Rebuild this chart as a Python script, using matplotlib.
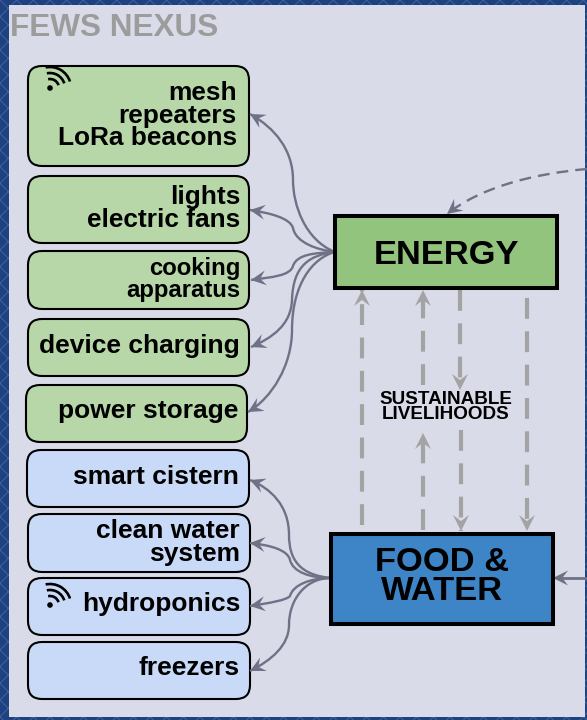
import numpy as np
import matplotlib
matplotlib.use('Agg')
import matplotlib.pyplot as plt
from matplotlib.patches import Rectangle, FancyBboxPatch, Polygon, Arc, Circle, PathPatch
from matplotlib.path import Path

plt.rcParams['font.family'] = ['Liberation Sans', 'DejaVu Sans']
plt.rcParams['hatch.linewidth'] = 0.8

title = 'FEWS NEXUS'
energy_labels = ['mesh\nrepeaters\nLoRa beacons', 'lights\nelectric fans', 'cooking\napparatus',
                 'device charging', 'power storage']
water_labels = ['smart cistern', 'clean water\nsystem', 'hydroponics', 'freezers']
centre_labels = ['ENERGY', 'FOOD &\nWATER']
middle_label = 'SUSTAINABLE\nLIVELIHOODS'

# box layout in image pixels: x0, x1, y0, y1
energy_boxes = [(28, 249, 66, 166), (28, 249, 176, 243), (28, 249, 251, 309), (28, 249, 319, 376), (26, 247, 385, 442)]
water_boxes = [(27, 249, 450, 507), (28, 250, 514, 572), (28, 250, 578, 635), (28, 250, 642, 699)]
energy_text = [(237, 115.5, 18.9), (240, 208.5, 18.9), (240, 279.5, 17.2), (240, 346, 19), (238, 411, 19)]
water_text = [(239, 477, 19), (240, 542.5, 19), (240, 604, 19), (240, 668, 19)]
wifi_dots = [(50, 88), (50, 605)]

# curved links as bezier controls: start, c1, c2, mid, c1, c2, tip
energy_links = [
    [(335, 252), (305, 240), (293, 205), (293, 180), (293, 150), (275, 128), (250, 114)],
    [(335, 252), (318, 250), (296, 243), (293, 228), (290, 218), (270, 213), (250, 210)],
    [(335, 252), (315, 253), (297, 254), (293, 266), (290, 276), (272, 277), (251, 280)],
    [(335, 252), (310, 255), (293, 265), (292, 300), (291, 325), (272, 338), (251, 347)],
    [(335, 252), (312, 258), (292, 285), (292, 330), (292, 365), (272, 398), (248, 412)],
]
water_links = [
    [(331, 578), (300, 575), (289, 560), (289, 535), (289, 505), (270, 488), (250, 480)],
    [(331, 578), (310, 578), (293, 572), (290, 560), (288, 550), (270, 545), (250, 543)],
    [(331, 578), (310, 578), (293, 585), (290, 596), (287, 600), (270, 603), (250, 606)],
    [(331, 578), (305, 578), (289, 600), (289, 625), (289, 645), (272, 660), (250, 671)],
]
top_link = [(587, 169), (530, 174), (480, 188), (447, 214)]

# grey dashed arrows: x, start y, tip y
dashed_up = [(362, 525, 290), (423, 530, 433), (423, 385, 290)]
dashed_down = [(460, 290, 390), (461, 430, 531), (527, 298, 531)]

LINK = '#6F7186'
GREY = '#A3A3A3'


def head(tip, d, color, size=15, width=7.5, zorder=4):
    d = np.array(d, dtype=float)
    d = d / np.hypot(*d)
    n = np.array([-d[1], d[0]])
    tip = np.array(tip, dtype=float)
    ax.add_patch(Polygon([tip, tip - d * size + n * width, tip - d * size * 0.62,
                          tip - d * size - n * width], closed=True, fc=color, ec='none', zorder=zorder))


def link(pts, dashed=False):
    codes = [Path.MOVETO] + [Path.CURVE4] * (len(pts) - 1)
    ls = (0, (5, 3)) if dashed else '-'
    ax.add_patch(PathPatch(Path(pts, codes), fc='none', ec=LINK, lw=1.7, ls=ls, zorder=3))
    head(pts[-1], np.subtract(pts[-1], pts[-2]), LINK)


def box(b, color):
    x0, x1, y0, y1 = b
    ax.add_patch(FancyBboxPatch((x0 + 14, y0 + 14), x1 - x0 - 28, y1 - y0 - 28,
                                boxstyle='round,pad=14', fc=color, ec='black', lw=1.5, zorder=2))


def wifi(x, y):
    ax.add_patch(Circle((x, y), 2.8, fc='black', ec='none', zorder=5))
    for r in [9, 15, 21]:
        ax.add_patch(Arc((x, y), 2 * r, 2 * r, theta1=258, theta2=342, ec='black', lw=1.9, zorder=5))


fig = plt.figure(figsize=(5.87, 7.2), dpi=100)
ax = fig.add_axes([0, 0, 1, 1])
ax.set_xlim(0, 587)
ax.set_ylim(720, 0)
ax.axis('off')

ax.add_patch(Rectangle((0, 0), 587, 720, fc='#1E4180', ec='#3D5F9E', hatch='xx', lw=0, zorder=0))
ax.add_patch(Rectangle((9, 5), 576, 712, fc='#D9DCE8', ec='none', zorder=1))

ax.text(10, 28, title, color='#9C9C9C', fontsize=22.7, fontweight='bold', va='center', ha='left', zorder=6)

for b, lab, t in zip(energy_boxes, energy_labels, energy_text):
    box(b, '#B7D7A8')
    ax.text(t[0], t[1], lab, fontsize=t[2], fontweight='bold', ha='right', va='center', linespacing=0.94, zorder=6)
for b, lab, t in zip(water_boxes, water_labels, water_text):
    box(b, '#C9DAF8')
    ax.text(t[0], t[1], lab, fontsize=t[2], fontweight='bold', ha='right', va='center', linespacing=0.94, zorder=6)
for d in wifi_dots:
    wifi(*d)

for pts in energy_links + water_links:
    link(pts)
link(top_link, dashed=True)
ax.plot([587, 560], [578, 578], color=LINK, lw=2, zorder=3)
head((553, 578), (-1, 0), LINK)

for x, y0, y1 in dashed_up + dashed_down:
    ax.plot([x, x], [y0, y1], color=GREY, lw=3, ls=(0, (5, 3)), zorder=3)
    head((x, y1), (0, np.sign(y1 - y0)), GREY, size=16, width=8)

ax.add_patch(Rectangle((335, 216), 222, 72, fc='#93C47D', ec='black', lw=2.9, zorder=5))
ax.add_patch(Rectangle((331, 534), 222, 90, fc='#3D85C6', ec='black', lw=2.9, zorder=5))
ax.text(447, 255, centre_labels[0], fontsize=24.8, fontweight='bold', ha='center', va='center', zorder=6)
ax.text(442, 577, centre_labels[1], fontsize=24.8, fontweight='bold', ha='center', va='center', linespacing=0.9, zorder=6)
ax.text(446, 407, middle_label, fontsize=13.6, fontweight='bold', ha='center', va='center', linespacing=0.85, zorder=6)

fig.savefig('out.png', dpi=100)
